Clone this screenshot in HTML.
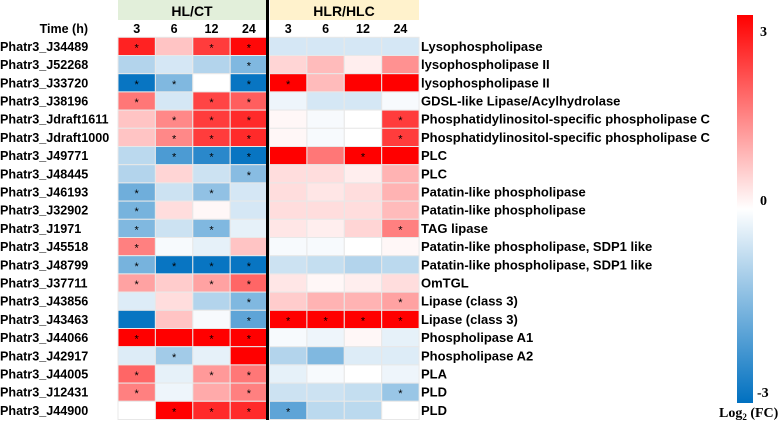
<!DOCTYPE html>
<html><head><meta charset="utf-8"><style>
body{margin:0;width:782px;height:420px;background:#fff;overflow:hidden;font-family:"Liberation Sans",Arial,sans-serif}
svg text{font-family:"Liberation Sans",Arial,sans-serif;font-weight:bold;font-size:12px}
</style></head><body>
<svg id="hm" width="782" height="420">
<defs><linearGradient id="cb" x1="0" y1="0" x2="0" y2="1">
<stop offset="0" stop-color="#ff0000"/><stop offset="0.5" stop-color="#ffffff"/><stop offset="1" stop-color="#0070c0"/></linearGradient></defs>
<rect x="118" y="0" width="149" height="20" fill="#e2efda"/>
<rect x="270" y="0" width="149" height="20" fill="#fff2cc"/>
<text x="192" y="16" text-anchor="middle" style="font-size:14px">HL/CT</text>
<text x="344" y="16" text-anchor="middle" style="font-size:14px">HLR/HLC</text>
<text x="88" y="33" text-anchor="end" style="font-size:12.5px">Time (h)</text>
<g id="cells"></g>
<rect x="266" y="0" width="3" height="420" fill="#000"/>
<rect x="737" y="15" width="16" height="388" fill="url(#cb)"/>
<text x="760" y="36" style="font-family:'Liberation Serif',serif;font-size:14px">3</text>
<text x="760" y="205" style="font-family:'Liberation Serif',serif;font-size:14px">0</text>
<text x="757" y="397" style="font-family:'Liberation Serif',serif;font-size:14px">-3</text>
<text x="719" y="417" style="font-family:'Liberation Serif',serif;font-size:14px">Log<tspan dy="3" style="font-size:9px">2</tspan><tspan dy="-3"> (FC)</tspan></text>
</svg>
<script>
const genes=["Phatr3_J34489","Phatr3_J52268","Phatr3_J33720","Phatr3_J38196","Phatr3_Jdraft1611","Phatr3_Jdraft1000","Phatr3_J49771","Phatr3_J48445","Phatr3_J46193","Phatr3_J32902","Phatr3_J1971","Phatr3_J45518","Phatr3_J48799","Phatr3_J37711","Phatr3_J43856","Phatr3_J43463","Phatr3_J44066","Phatr3_J42917","Phatr3_J44005","Phatr3_J12431","Phatr3_J44900"];
const annotations=["Lysophospholipase","lysophospholipase II","lysophospholipase II","GDSL-like Lipase/Acylhydrolase","Phosphatidylinositol-specific phospholipase C","Phosphatidylinositol-specific phospholipase C","PLC","PLC","Patatin-like phospholipase","Patatin-like phospholipase","TAG lipase","Patatin-like phospholipase, SDP1 like","Patatin-like phospholipase, SDP1 like","OmTGL","Lipase (class 3)","Lipase (class 3)","Phospholipase A1","Phospholipase A2","PLA","PLD","PLD"];
const times=["3","6","12","24","3","6","12","24"];
const values=[
[2.6,0.7,2.3,2.9,-0.5,-0.5,-0.5,-0.5],
[-0.9,-0.5,-0.9,-1.5,0.5,0.8,0.2,1.3],
[-2.9,-1.5,0,-2.9,3,0.8,3,3],
[1.6,-0.5,2.2,1.9,-0.2,-0.5,-0.5,-0.1],
[0.7,1.4,2.3,2.5,0.1,-0.1,0,2.3],
[0.7,1.4,2.3,2.5,0.1,-0.1,0,2.3],
[-0.8,-2.1,-2.5,-2.9,3,1.6,3,3],
[-0.9,0.5,-0.6,-1.4,0.4,0.4,0.2,0.9],
[-1.7,-0.6,-1.3,-0.5,0.4,0.3,0.4,0.9],
[-1.6,0.4,0.1,-0.5,0.4,0.4,0.4,0.8],
[-1.5,-0.6,-1.5,-0.3,0.3,0.2,0.5,1.5],
[1.5,-0.1,-0.3,0.7,-0.1,-0.1,0,0.1],
[-1.6,-2.9,-2.9,-2.9,-0.6,-0.7,-0.9,-0.8],
[1.1,0.6,1.1,1.8,0.3,0.1,0.2,0.4],
[-0.4,0.4,-0.9,-1.5,0.6,0.9,0.9,1.1],
[-2.9,0.7,-0.1,-1.9,3,3,3,3],
[3,3,3,3,-0.1,-0.2,0.1,-0.3],
[-0.4,-1.1,-0.3,3,-0.9,-1.5,-0.4,-0.4],
[1.8,-0.3,1.2,1.6,-0.3,-0.1,0,-0.2],
[1.5,-0.2,1.0,1.5,-0.6,-0.6,-0.7,-1.2],
[0,3,2.5,2.5,-1.9,-0.8,-0.8,0]];
const stars=[
[1,0,1,1,0,0,0,0],[0,0,0,1,0,0,0,0],[1,1,0,1,1,0,0,0],[1,0,1,1,0,0,0,0],[0,1,1,1,0,0,0,1],[0,1,1,1,0,0,0,1],[0,1,1,1,0,0,1,0],[0,0,0,1,0,0,0,0],[1,0,1,0,0,0,0,0],[1,0,0,0,0,0,0,0],[1,0,1,0,0,0,0,1],[1,0,0,0,0,0,0,0],[1,1,1,1,0,0,0,0],[1,0,1,1,0,0,0,0],[0,0,0,1,0,0,0,1],[0,0,0,1,1,1,1,1],[1,0,1,1,0,0,0,0],[0,1,0,0,0,0,0,0],[1,0,1,1,0,0,0,0],[1,0,0,1,0,0,0,1],[0,1,1,1,1,0,0,0]];
const NS="http://www.w3.org/2000/svg";
const g=document.getElementById('cells');
const top0=37.3,rh=18.2,cw=37.4;
function xCol(c){return c<4?118+c*cw:269.5+(c-4)*cw;}
function yRow(r){return top0+r*rh;}
function color(v){v=Math.max(-3,Math.min(3,v))/3;
 if(v>=0){return `rgb(255,${Math.round(255*(1-v))},${Math.round(255*(1-v))})`;}
 const t=-v;return `rgb(${Math.round(255*(1-t))},${Math.round(255-(255-112)*t)},${Math.round(255-(255-192)*t)})`;}
function mk(tag,attrs){const e=document.createElementNS(NS,tag);for(const k in attrs)e.setAttribute(k,attrs[k]);return e;}
times.forEach((t,c)=>{const e=mk('text',{x:xCol(c)+cw/2,y:33,'text-anchor':'middle',style:'font-size:12.5px'});e.textContent=t;


g.appendChild(e);});
values.forEach((row,r)=>{
 const lb=mk('text',{x:0,y:yRow(r)+rh/2+4.5,style:'font-size:12.6px'});lb.textContent=genes[r];
 
 
 g.appendChild(lb);
 const an=mk('text',{x:421,y:yRow(r)+rh/2+4.5,style:'font-size:13px'});an.textContent=annotations[r];
 
 
 g.appendChild(an);
 row.forEach((v,c)=>{
  const rc=mk('rect',{x:xCol(c),y:yRow(r),width:cw,height:rh,fill:color(v),stroke:'#e8e8e8','stroke-width':1});
  
  
  g.appendChild(rc);
  if(stars[r][c]){const s=mk('text',{x:xCol(c)+cw/2,y:yRow(r)+rh/2+5,'text-anchor':'middle',style:'font-size:11px;font-weight:normal'});s.textContent='*';
  
  
  g.appendChild(s);}
 });
});
</script>
</body></html>
